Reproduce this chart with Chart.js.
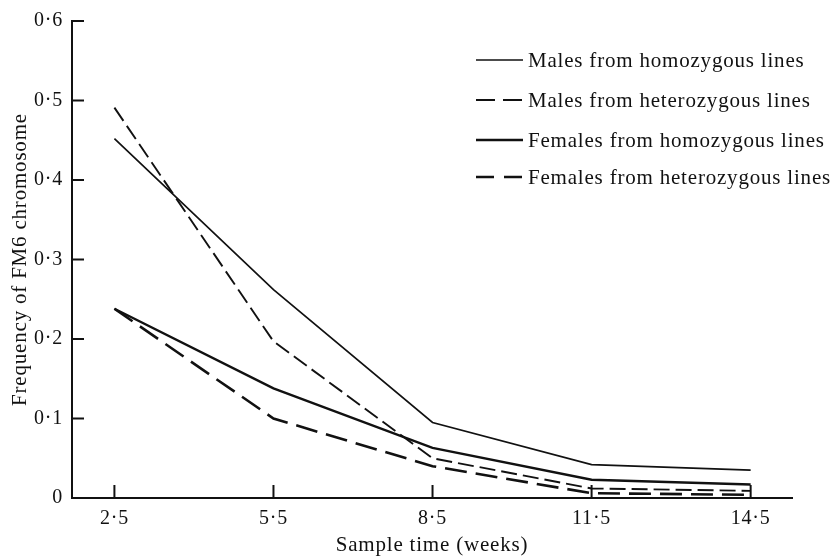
<!DOCTYPE html>
<html><head><meta charset="utf-8">
<script src="https://cdn.jsdelivr.net/npm/chart.js@4.4.1/dist/chart.umd.min.js"></script>
<style>html,body{margin:0;padding:0;background:#fff}#wrap{width:834px;height:556px}</style>
</head><body><div id="wrap"><canvas id="c" width="834" height="556"></canvas></div>
<script>
// ---- data ----
const sampleWeeks = [2.5, 5.5, 8.5, 11.5, 14.5];
const xTickLabels = ['2·5', '5·5', '8·5', '11·5', '14·5'];
const yTickValues = [0, 0.1, 0.2, 0.3, 0.4, 0.5, 0.6];
const yTickLabels = ['0', '0·1', '0·2', '0·3', '0·4', '0·5', '0·6'];
const seriesLabels = ['Males from homozygous lines', 'Males from heterozygous lines', 'Females from homozygous lines', 'Females from heterozygous lines'];
const malesHomozygous = [0.452, 0.262, 0.095, 0.042, 0.035];
const malesHeterozygous = [0.491, 0.197, 0.050, 0.012, 0.009];
const femalesHomozygous = [0.238, 0.138, 0.063, 0.023, 0.017];
const femalesHeterozygous = [0.238, 0.100, 0.040, 0.006, 0.004];

const INK = '#111';
const FONT = '"Liberation Serif", "Times New Roman", serif';

function pts(vals) { return sampleWeeks.map((x, i) => ({x: x, y: vals[i]})); }

const spacing = {
  id: 'spacing',
  beforeDraw(chart) { try { chart.ctx.letterSpacing = '0.8px'; } catch (e) {} }
};

const inwardTicks = {
  id: 'inwardTicks',
  afterDraw(chart) {
    const ctx = chart.ctx, xs = chart.scales.x, ys = chart.scales.y, a = chart.chartArea;
    ctx.save();
    ctx.strokeStyle = INK; ctx.lineWidth = 2; ctx.setLineDash([]);
    sampleWeeks.forEach(v => { const p = xs.getPixelForValue(v); ctx.beginPath(); ctx.moveTo(p, a.bottom); ctx.lineTo(p, a.bottom - 13); ctx.stroke(); });
    yTickValues.forEach(v => { if (v === 0) return; const p = ys.getPixelForValue(v); ctx.beginPath(); ctx.moveTo(a.left, p); ctx.lineTo(a.left + 12, p); ctx.stroke(); });
    ctx.restore();
  }
};

const legendRows = [60, 100, 140, 177];
const inlineLegend = {
  id: 'inlineLegend',
  afterDraw(chart) {
    const ctx = chart.ctx;
    ctx.save();
    ctx.font = '21px ' + FONT; ctx.fillStyle = INK; ctx.textBaseline = 'middle'; ctx.textAlign = 'left';
    chart.data.datasets.forEach((ds, i) => {
      const y = legendRows[i];
      ctx.strokeStyle = INK; ctx.lineWidth = ds.borderWidth;
      ctx.setLineDash(ds.legendDash || []);
      ctx.beginPath(); ctx.moveTo(476, y); ctx.lineTo(523, y); ctx.stroke();
      ctx.setLineDash([]);
      ctx.fillText(ds.label, 528, y + 1);
    });
    ctx.restore();
  }
};

new Chart(document.getElementById('c'), {
  type: 'line',
  data: {
    datasets: [
      {label: seriesLabels[0], data: pts(malesHomozygous), borderColor: INK, borderWidth: 1.7, borderDash: [], legendDash: []},
      {label: seriesLabels[1], data: pts(malesHeterozygous), borderColor: INK, borderWidth: 1.9, borderDash: [16, 6], legendDash: [19, 8]},
      {label: seriesLabels[2], data: pts(femalesHomozygous), borderColor: INK, borderWidth: 2.4, borderDash: [], legendDash: []},
      {label: seriesLabels[3], data: pts(femalesHeterozygous), borderColor: INK, borderWidth: 2.6, borderDash: [22, 9], legendDash: [18, 10]}
    ]
  },
  options: {
    responsive: false, animation: false, devicePixelRatio: 1,
    elements: {point: {radius: 0, hoverRadius: 0}, line: {tension: 0, fill: false, borderCapStyle: 'butt'}},
    layout: {padding: {top: 15, right: 42, left: 0, bottom: 0}},
    plugins: {legend: {display: false}, tooltip: {enabled: false}},
    scales: {
      x: {
        type: 'linear', min: 1.7, max: 15.28,
        afterBuildTicks: s => { s.ticks = sampleWeeks.map(v => ({value: v})); },
        afterFit: s => { s.height = 58; },
        grid: {display: false, drawTicks: false},
        border: {display: true, color: INK, width: 2},
        ticks: {padding: 9, maxRotation: 0, autoSkip: false, color: INK, font: {family: FONT, size: 20},
          callback: v => xTickLabels[sampleWeeks.indexOf(v)]},
        title: {display: true, text: 'Sample time (weeks)', color: INK, font: {family: FONT, size: 21, lineHeight: 1}, padding: {top: 0, bottom: 0}}
      },
      y: {
        min: 0, max: 0.6,
        afterBuildTicks: s => { s.ticks = yTickValues.map(v => ({value: v})); },
        afterFit: s => { s.width = 72; },
        grid: {display: false, drawTicks: false},
        border: {display: true, color: INK, width: 2},
        ticks: {padding: 9, color: INK, font: {family: FONT, size: 20},
          callback: v => yTickLabels[yTickValues.indexOf(v)]},
        title: {display: true, text: 'Frequency of FM6 chromosome', color: INK, font: {family: FONT, size: 21, lineHeight: 1}, padding: {top: 10, bottom: 0}}
      }
    }
  },
  plugins: [spacing, inwardTicks, inlineLegend]
});
</script></body></html>
